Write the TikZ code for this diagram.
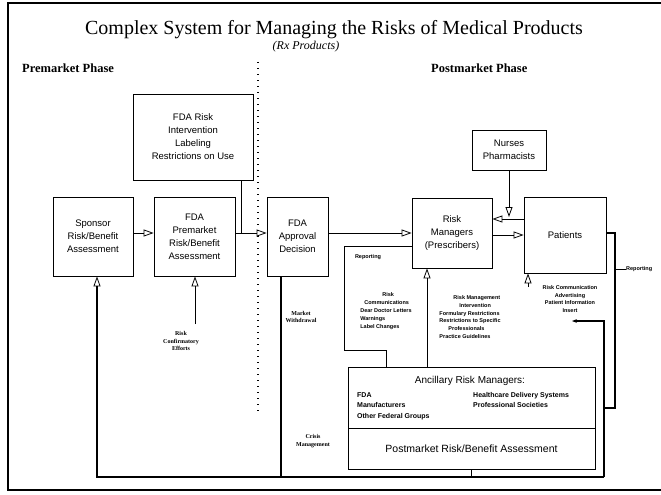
\documentclass[tikz,border=0pt]{standalone}
\usepackage{fontspec}
\setmainfont{Liberation Serif}
\setsansfont{Liberation Sans}
\usetikzlibrary{arrows.meta}

\begin{document}
\begin{tikzpicture}[x=1pt,y=-1pt,
        box/.style={draw, line width=0.8pt, align=center, inner sep=0pt, font=\sffamily\fontsize{9.5}{13}\selectfont},
        lbl/.style={align=center, inner sep=0pt, font=\sffamily\bfseries\fontsize{5.5}{7.8}\selectfont},
        slbl/.style={align=center, inner sep=0pt, font=\bfseries\fontsize{6}{7.5}\selectfont},
        flow/.style={line width=0.8pt, -{Triangle[open,length=10pt,width=7pt,line width=0.8pt]}},
        conn/.style={line width=0.9pt},
        loop/.style={line width=1.6pt}]
        \useasboundingbox (0,0) rectangle (661,495);
        \draw[line width=1.2pt] (661,3) -- (8,3) -- (8,490) -- (661,490);
        \node[font=\fontsize{20}{22}\selectfont] (title) at (334,30) {Complex System for Managing the Risks of Medical Products};
        \node[font=\itshape\fontsize{12}{14}\selectfont] (rx) at (306,47) {(Rx Products)};
        \node[font=\bfseries\fontsize{12.5}{13}\selectfont, anchor=west, inner sep=0pt] (prephase) at (22,68) {Premarket Phase};
        \node[font=\bfseries\fontsize{12.5}{13}\selectfont, anchor=west, inner sep=0pt] (postphase) at (431,68) {Postmarket Phase};
        \draw[line width=1.2pt, dash pattern=on 1.2pt off 4.8pt] (258,62) -- (258,415);

        \node[box, minimum width=120pt, minimum height=86pt] (riskint) at (193,137) {FDA Risk\\Intervention\\Labeling\\Restrictions on Use};
        \node[box, minimum width=80pt, minimum height=79pt] (sponsor) at (93,236.5) {Sponsor\\Risk/Benefit\\Assessment};
        \node[box, minimum width=81pt, minimum height=79pt] (premarket) at (194.5,236.5) {FDA\\Premarket\\Risk/Benefit\\Assessment};
        \node[box, minimum width=61pt, minimum height=79pt] (approval) at (297.5,236.5) {FDA\\Approval\\Decision};
        \node[box, minimum width=74pt, minimum height=40pt] (nurses) at (509,150) {Nurses\\Pharmacists};
        \node[box, minimum width=80pt, minimum height=70pt] (riskmgr) at (452,233) {Risk\\Managers\\(Prescribers)};
        \node[box, minimum width=82pt, minimum height=76pt] (patients) at (565,235) {Patients};
        \node[draw, line width=0.8pt, minimum width=247pt, minimum height=61pt] (anc) at (471.5,397.5) {};
        \node[box, minimum width=247pt, minimum height=41pt, font=\sffamily\fontsize{10.5}{12}\selectfont] (post) at (471.5,448.5) {Postmarket Risk/Benefit Assessment};
        \node[font=\sffamily\fontsize{10}{12}\selectfont] (anctitle) at (470,381) {Ancillary Risk Managers:};
        \node[anchor=north west, align=left, inner sep=0pt, font=\sffamily\bfseries\fontsize{7}{10.5}\selectfont] (ancleft) at (357,392) {FDA\\Manufacturers\\Other Federal Groups};
        \node[anchor=north west, align=left, inner sep=0pt, font=\sffamily\bfseries\fontsize{7}{10.5}\selectfont] (ancright) at (473,392) {Healthcare Delivery Systems\\Professional Societies};

        \coordinate (lvl) at (0,233);
        \coordinate (jn) at (241,233);
        \coordinate (nd) at (509,217);
        \coordinate (bl) at (97,477);
        \coordinate (br) at (604,477);
        \coordinate (pc) at (195,324);
        \coordinate (pa) at (528,287);
        \coordinate (it) at (572,321);

        \draw[flow] (sponsor.east |- lvl) -- (premarket.west |- lvl);
        \draw[flow] (premarket.east |- lvl) -- (approval.west |- lvl);
        \draw[conn] (riskint.south -| jn) -- (jn);
        \draw[flow] (approval.east |- lvl) -- (riskmgr.west |- lvl);
        \draw[flow] (patients.west |- 0,219) -- (riskmgr.east |- 0,219);
        \draw[flow] (riskmgr.east |- 0,235) -- (patients.west |- 0,235);
        \draw[flow] (nurses.south) -- (nd);
        \draw[conn] (riskmgr.west |- 0,246) -| (344,350) -| (anc.north -| 386,0);
        \draw[flow] (anc.north -| 427,0) -- (riskmgr.south -| 427,0);
        \draw[flow] (pa) -- (patients.south -| pa);
        \draw[flow] (pc) -- (premarket.south -| pc);

        \node[lbl] (rep) at (368,257) {Reporting};
        \node[lbl, align=left] (riskcomm) at (386,311) {\hspace{22pt}Risk\\\hspace{4pt}Communications\\Dear Doctor Letters\\Warnings\\Label Changes};
        \node[lbl, align=left] (riskman) at (470,317) {\hspace{14pt}Risk Management\\\hspace{20pt}Intervention\\Formulary Restrictions\\Restrictions to Specific\\\hspace{9pt}Professionals\\Practice Guidelines};
        \node[lbl] (patcomm) at (570,299) {Risk Communication\\Advertising\\Patient Information\\Insert};
        \node[slbl] (conf) at (181,341) {Risk\\Confirmatory\\Efforts};
        \node[slbl] (mkt) at (301,317) {Market\\Withdrawal};
        \node[slbl] (crisis) at (313,441) {Crisis\\Management};
        \node[lbl, anchor=west] (rep2) at (626,269) {Reporting};

        \draw[loop, -{Triangle[open,length=10pt,width=7pt,line width=0.8pt]}] (br) -- (bl) -- (sponsor.south -| bl);
        \draw[loop, -{Stealth[length=5pt]}] (br) |- (it);
        \draw[loop] (patients.east |- 0,233) -| (615,408) -- (br |- 0,408);
        \draw[conn] (615,269) -- (rep2.west);
        \draw[loop] (post.south) -- (post.south |- bl);
        \draw[loop] (approval.south -| 281,0) -- (bl -| 281,0);
    \end{tikzpicture}
\end{document}
